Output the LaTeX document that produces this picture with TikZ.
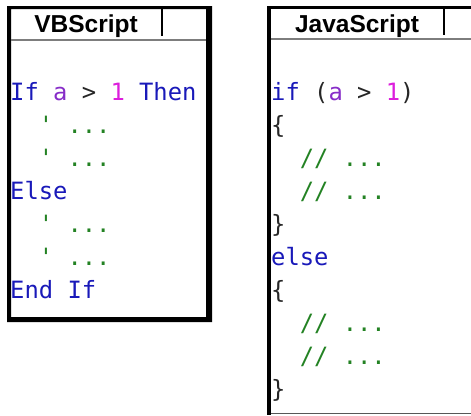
\documentclass[tikz,border=0pt]{standalone}
\usepackage{fontspec}
\setmonofont{DejaVu Sans Mono}
\newfontfamily\headfont{Liberation Sans}

\definecolor{kwblue}{RGB}{25,25,185}
\definecolor{varpurple}{RGB}{135,45,200}
\definecolor{nummagenta}{RGB}{220,30,220}
\definecolor{cmtgreen}{RGB}{35,130,35}
\definecolor{rulegray}{RGB}{125,125,125}

\newcommand{\kwd}[1]{\textcolor{kwblue}{#1}}
\newcommand{\ident}[1]{\textcolor{varpurple}{#1}}
\newcommand{\numl}[1]{\textcolor{nummagenta}{#1}}
\newcommand{\cmt}[1]{\textcolor{cmtgreen}{#1}}

\begin{document}
\begin{tikzpicture}[x=1pt, y=-1pt,
  code/.style={anchor=base west, inner sep=0pt, text=black!85,
    font=\ttfamily\fontsize{23.8}{33}\selectfont},
  head/.style={anchor=base, inner sep=0pt,
    font=\headfont\bfseries\fontsize{24.5}{28}\selectfont}]

\useasboundingbox (0,0) rectangle (471,415);

% VBScript panel
\fill[even odd rule] (7,6) rectangle (212,322) (11,9) rectangle (206,317);
\draw[rulegray, line width=1.5] (11,40) -- (206,40);
\draw[line width=1.2] (162,9) -- (162,36);
\node[head] (vbhead) at (86,32) {VBScript};

% JavaScript panel, runs off to the right
\fill (267,6) rectangle (271,415);
\fill (271,6) rectangle (471,9);
\draw[rulegray, line width=1.5] (271,39) -- (471,39);
\draw[rulegray!70!black, line width=1.5] (271,413.5) -- (471,413.5);
\draw[line width=1.2] (444,9) -- (444,35);
\node[head] (jshead) at (357,32) {JavaScript};

% VBScript code
\node[code] (vb1) at (10,100) {\kwd{If}~\ident{a}~>~\numl{1}~\kwd{Then}};
\node[code] (vb2) at (10,133) {~~\cmt{'~...}};
\node[code] (vb3) at (10,166) {~~\cmt{'~...}};
\node[code] (vb4) at (10,199) {\kwd{Else}};
\node[code] (vb5) at (10,232) {~~\cmt{'~...}};
\node[code] (vb6) at (10,265) {~~\cmt{'~...}};
\node[code] (vb7) at (10,298) {\kwd{End~If}};

% JavaScript code
\node[code] (js1) at (271,100) {\kwd{if}~(\ident{a}~>~\numl{1})};
\node[code] (js2) at (271,133) {\{};
\node[code] (js3) at (271,166) {~~\cmt{//~...}};
\node[code] (js4) at (271,199) {~~\cmt{//~...}};
\node[code] (js5) at (271,232) {\}};
\node[code] (js6) at (271,265) {\kwd{else}};
\node[code] (js7) at (271,298) {\{};
\node[code] (js8) at (271,331) {~~\cmt{//~...}};
\node[code] (js9) at (271,364) {~~\cmt{//~...}};
\node[code] (js10) at (271,397) {\}};

\end{tikzpicture}
\end{document}
